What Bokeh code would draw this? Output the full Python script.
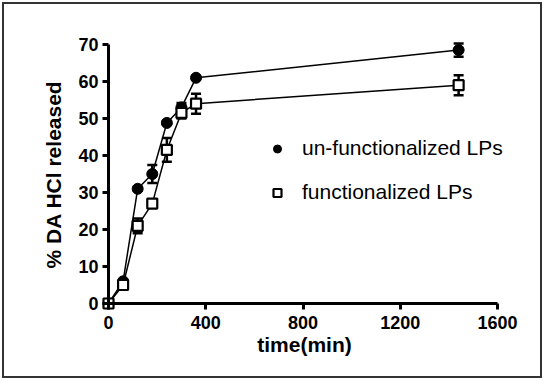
from bokeh.plotting import figure
from bokeh.models import (Range1d, Whisker, TeeHead, ColumnDataSource, Legend, LegendItem,
                          FixedTicker, LinearAxis)
from bokeh.embed import file_html
from bokeh.resources import INLINE

time_min = [0, 60, 120, 180, 240, 300, 360, 1440]
unfunc = [0, 6, 31, 35, 48.8, 53, 61, 68.5]
unfunc_err = [0, 0.5, 0.5, 2.4, 0.5, 1.2, 0.5, 1.8]
func = [0, 5, 21, 27, 41.5, 51.5, 54, 59]
func_err = [0, 1.0, 2.0, 1.0, 3.2, 1.5, 2.7, 2.7]
x_ticks = [0, 400, 800, 1200, 1600]
y_ticks = [0, 10, 20, 30, 40, 50, 60, 70]

FONT = "Liberation Sans"

p = figure(width=540, height=376, output_backend="svg", toolbar_location=None,
           x_range=Range1d(-28.8, 1641), y_range=Range1d(-1.89, 71.62),
           min_border_left=97, min_border_right=37, min_border_top=34, min_border_bottom=70)
p.styles = {"border": "2px solid #333", "margin": "2px"}
p.outline_line_color = None
p.grid.grid_line_color = None

# label axes (at frame edges, labels only)
for ax in (p.xaxis[0], p.yaxis[0]):
    ax.axis_line_color = None
    ax.major_tick_line_color = None
    ax.major_tick_in = 0
    ax.major_tick_out = 0
    ax.minor_tick_line_color = None
    ax.major_label_text_font = FONT
    ax.major_label_text_font_style = "bold"
    ax.major_label_text_font_size = "18px"
    ax.major_label_text_color = "black"
    ax.axis_label_text_font = FONT
    ax.axis_label_text_font_style = "bold"
    ax.axis_label_text_font_size = "21px"
    ax.axis_label_text_color = "black"
p.xaxis.ticker = FixedTicker(ticks=x_ticks)
p.yaxis.ticker = FixedTicker(ticks=y_ticks)
p.xaxis.bounds = (0, 1600)
p.yaxis.bounds = (0, 70)
p.xaxis.axis_label = "time(min)"
p.yaxis.axis_label = "% DA HCl released"
p.xaxis.major_label_standoff = 5
p.yaxis.major_label_standoff = 3
p.xaxis.axis_label_standoff = 1
p.yaxis.axis_label_standoff = 10

# line/tick axes crossing at zero
def line_axis(ticks, bounds):
    a = LinearAxis(ticker=FixedTicker(ticks=ticks), bounds=bounds, fixed_location=0,
                   axis_line_width=3, axis_line_color="black",
                   major_tick_line_width=3, major_tick_line_color="black",
                   major_tick_in=0, major_tick_out=6, minor_tick_line_color=None,
                   major_label_text_alpha=0, major_label_text_font_size="1px")
    return a

p.add_layout(line_axis(x_ticks, (0, 1600)), "below")
p.add_layout(line_axis(y_ticks, (0, 70)), "left")

src_u = ColumnDataSource(dict(x=time_min, y=unfunc,
                              lo=[a - b for a, b in zip(unfunc, unfunc_err)],
                              hi=[a + b for a, b in zip(unfunc, unfunc_err)]))
src_f = ColumnDataSource(dict(x=time_min, y=func,
                              lo=[a - b for a, b in zip(func, func_err)],
                              hi=[a + b for a, b in zip(func, func_err)]))

p.line("x", "y", source=src_u, line_color="black", line_width=1.5)
p.line("x", "y", source=src_f, line_color="black", line_width=1.5)

r_u = p.scatter("x", "y", source=src_u, marker="circle", size=11,
                fill_color="black", line_color="black")
r_f = p.scatter("x", "y", source=src_f, marker="square", size=10,
                fill_color="white", line_color="black", line_width=2.2)

for src in (src_u, src_f):
    w = Whisker(source=src, base="x", upper="hi", lower="lo", line_width=2.5, line_color="black",
                upper_head=TeeHead(size=10, line_width=2.5, line_color="black"),
                lower_head=TeeHead(size=10, line_width=2.5, line_color="black"))
    p.add_layout(w)

legend = Legend(items=[LegendItem(label="un-functionalized LPs", renderers=[r_u]),
                       LegendItem(label="functionalized LPs", renderers=[r_f])],
                location=(166, 106), padding=0, margin=0, spacing=20,
                glyph_width=20, glyph_height=21, label_height=21, label_standoff=15,
                label_text_font=FONT, label_text_font_size="21px", label_text_color="black",
                border_line_color=None, background_fill_alpha=0)
p.add_layout(legend, "center")

open("out.html", "w").write(file_html(p, INLINE))
